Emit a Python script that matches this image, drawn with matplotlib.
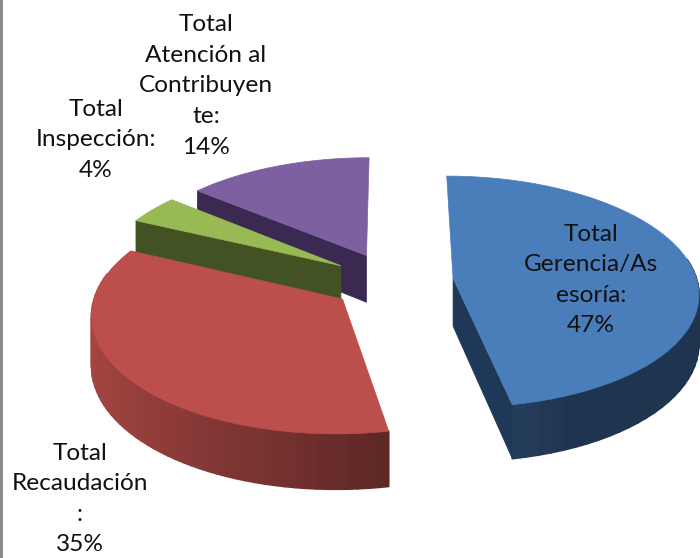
import numpy as np
from matplotlib import pyplot as plt
from matplotlib.collections import PolyCollection
from matplotlib.colors import to_rgb

categories = ["Total\nGerencia/As\nesoría:", "Total\nRecaudación\n:", "Total\nInspección:", "Total\nAtención al\nContribuyen\nte:"]
values = [47, 35, 4, 14]

colors = ["#4a7ebb", "#bc4f4b", "#98b954", "#7d60a0"]
wall_colors = ["#1f3857", "#6a2b29", "#435222", "#3a2a52"]
label_pos = [(591, 280), (80, 499), (96, 140), (206, 86)]
# which flat wall of each slice faces the viewer: 0 = start edge, -1 = end edge
open_walls = [[-1], [], [0], [0]]

# layout of the fake 3d pie, in pixels
center_x, center_y = 392, 281
radius = 244
squash = 0.47
persp = 0.116
explode = 0.252
depth = 48


def project(u, v, drop=0.0):
    s = 1 / (1 + persp * v)
    return center_x + radius * u * s, center_y - radius * squash * v * s + drop * depth * s


def wall(a, b):
    # a and b are (u, v) points on the top face
    return [project(*a), project(*b), project(*b, 1), project(*a, 1)]


fig = plt.figure(figsize=(7, 5.58), dpi=100)
ax = fig.add_axes([0, 0, 1, 1])
ax.set_xlim(0, 700)
ax.set_ylim(558, 0)
ax.axis("off")

ax.axvspan(0, 3, color="#8c8c8c", lw=0)

# start/end angles clockwise from twelve o'clock
ends = np.cumsum(values) / sum(values) * 2 * np.pi
starts = ends - np.array(values) / sum(values) * 2 * np.pi

# back slices first so the front ones cover them
for i in [3, 2, 1, 0]:
    mid = (starts[i] + ends[i]) / 2
    off_u, off_v = explode * np.sin(mid), explode * np.cos(mid)
    t = np.linspace(starts[i], ends[i], 60)
    u = off_u + np.sin(t)
    v = off_v + np.cos(t)
    base = np.array(to_rgb(colors[i]))

    # outer rim, shaded by the side it faces, back part is hidden anyway
    polys, shades = [], []
    for k in range(len(t) - 1):
        if np.cos(t[k]) > 0.2:
            continue
        polys.append(wall((u[k], v[k]), (u[k + 1], v[k + 1])))
        f = np.clip(0.56 - 0.32 * np.sin(t[k]), 0.42, 0.88)
        shades.append(base * f)
    if polys:
        ax.add_collection(PolyCollection(polys, facecolors=shades, edgecolors=shades, linewidths=1.2))

    # flat inner walls
    apex = (off_u, off_v)
    for k in open_walls[i]:
        ax.fill(*zip(*wall(apex, (u[k], v[k]))), color=wall_colors[i], lw=0.5)

    # top face
    top = [project(*apex)] + [project(a, b) for a, b in zip(u, v)]
    ax.fill(*zip(*top), color=colors[i], lw=0.5)

for name, val, pos in zip(categories, values, label_pos):
    ax.text(pos[0], pos[1], f"{name}\n{val}%", ha="center", va="center", family="Lato",
            fontsize=17.6, color="#111111", linespacing=1.56)

fig.savefig("out.png", dpi=100)
